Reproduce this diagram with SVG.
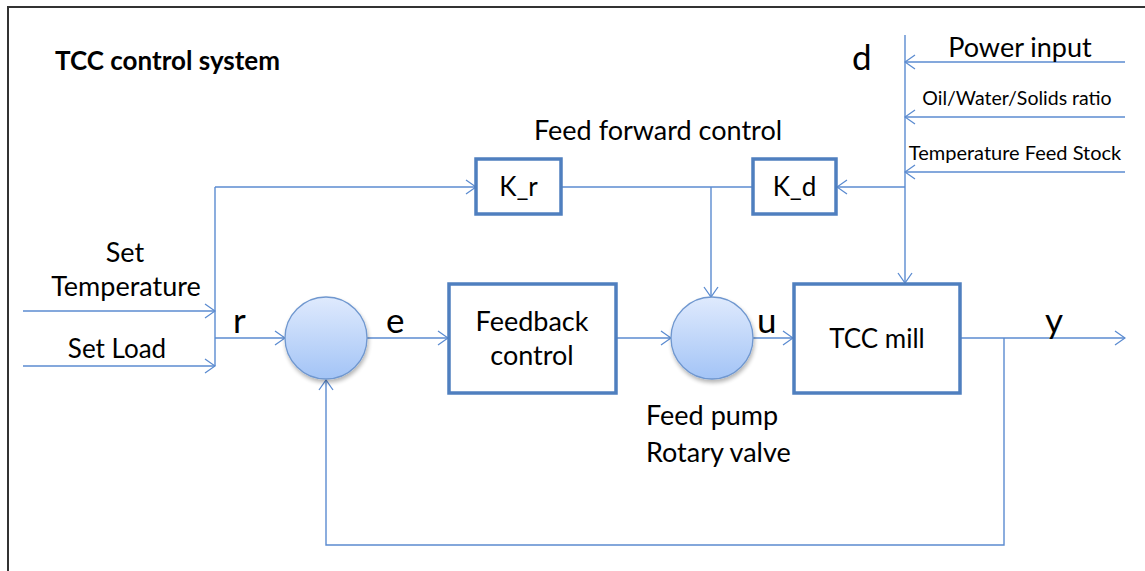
<svg xmlns="http://www.w3.org/2000/svg" width="1145" height="571" viewBox="0 0 1145 571">
<defs>
<marker id="arr" markerWidth="12" markerHeight="16" refX="11" refY="8" orient="auto" markerUnits="userSpaceOnUse">
<path d="M1,1 L11,8 L1,15" fill="none" stroke="#5b8bd0" stroke-width="1.3"/>
</marker>
<linearGradient id="cg" x1="0" y1="0" x2="0" y2="1">
<stop offset="0" stop-color="#dfeafd"/>
<stop offset="1" stop-color="#a3c4f6"/>
</linearGradient>
<filter id="sh" x="-20%" y="-20%" width="150%" height="150%">
<feGaussianBlur in="SourceAlpha" stdDeviation="2"/>
<feOffset dx="1" dy="3" result="b"/>
<feComponentTransfer><feFuncA type="linear" slope="0.3"/></feComponentTransfer>
<feMerge><feMergeNode/><feMergeNode in="SourceGraphic"/></feMerge>
</filter>
</defs>
<style>
.t{font-family:Lato,"Liberation Sans",sans-serif;fill:#000}
.box{fill:#fff;stroke:#4f7fbf;stroke-width:3.5}
.c{fill:url(#cg);stroke:#6f97cf;stroke-width:1.3}
.ln{fill:none;stroke:#5b8bd0;stroke-width:1.4}
</style>
<rect width="1145" height="571" fill="#fff"/>
<path d="M8,571 L8,7 L1145,7" fill="none" stroke="#333" stroke-width="2"/>
<text class="t" x="55" y="70" font-size="26" font-weight="bold">TCC control system</text>
<text class="t" x="534" y="140" font-size="27">Feed forward control</text>
<g id="connectors">
<path class="ln" d="M215,187 L476,187" marker-end="url(#arr)"/>
<path class="ln" d="M215,187 L215,366"/>
<path class="ln" d="M23,311 L215,311" marker-end="url(#arr)"/>
<path class="ln" d="M23,366 L215,366" marker-end="url(#arr)"/>
<path class="ln" d="M215,338 L285,338" marker-end="url(#arr)"/>
<path class="ln" d="M367,338 L448,338" marker-end="url(#arr)"/>
<path class="ln" d="M617,338 L671,338" marker-end="url(#arr)"/>
<path class="ln" d="M753,338 L793,338" marker-end="url(#arr)"/>
<path class="ln" d="M561,187 L753,187"/>
<path class="ln" d="M711,187 L711,297" marker-end="url(#arr)"/>
<path class="ln" d="M905,35 L905,283" marker-end="url(#arr)"/>
<path class="ln" d="M1125,62 L905,62" marker-end="url(#arr)"/>
<path class="ln" d="M1125,117 L905,117" marker-end="url(#arr)"/>
<path class="ln" d="M1125,172 L905,172" marker-end="url(#arr)"/>
<path class="ln" d="M905,187 L837,187" marker-end="url(#arr)"/>
<path class="ln" d="M961,338 L1125,338" marker-end="url(#arr)"/>
<path class="ln" d="M1004,338 L1004,545 L326,545 L326,380" marker-end="url(#arr)"/>
</g>
<g id="kr"><rect class="box" x="476" y="159" width="85" height="55"/><text class="t" x="518.5" y="196" font-size="26" text-anchor="middle">K_r</text></g>
<g id="kd"><rect class="box" x="753" y="159" width="83" height="55"/><text class="t" x="794.5" y="196" font-size="26" text-anchor="middle">K_d</text></g>
<g id="sum1"><circle class="c" cx="326" cy="338" r="41" filter="url(#sh)"/></g>
<g id="sum2"><circle class="c" cx="712" cy="338" r="41" filter="url(#sh)"/></g>
<g id="feedback"><rect class="box" x="449" y="284" width="167" height="109"/><text class="t" x="532" y="331" font-size="27" text-anchor="middle">Feedback</text><text class="t" x="532" y="365" font-size="27" text-anchor="middle">control</text></g>
<g id="mill"><rect class="box" x="794" y="284" width="166" height="109"/><text class="t" x="877" y="348" font-size="26" text-anchor="middle">TCC mill</text></g>
<g id="labels">
<text class="t" x="125" y="262" font-size="27" text-anchor="middle">Set</text>
<text class="t" x="126" y="296" font-size="27" text-anchor="middle">Temperature</text>
<text class="t" x="117" y="358" font-size="26" text-anchor="middle">Set Load</text>
<text class="t" x="233" y="333" font-size="35">r</text>
<text class="t" x="386" y="333" font-size="35">e</text>
<text class="t" x="757" y="333" font-size="35">u</text>
<text class="t" x="1045" y="333" font-size="35">y</text>
<text class="t" x="852" y="70" font-size="35">d</text>
<text class="t" x="1020" y="57" font-size="27" text-anchor="middle">Power input</text>
<text class="t" x="1017" y="105" font-size="19.5" text-anchor="middle">Oil/Water/Solids  ratio</text>
<text class="t" x="1015" y="160" font-size="20" text-anchor="middle">Temperature Feed Stock</text>
<text class="t" x="646" y="425" font-size="27">Feed pump</text>
<text class="t" x="646" y="462" font-size="27">Rotary valve</text>
</g>
</svg>
